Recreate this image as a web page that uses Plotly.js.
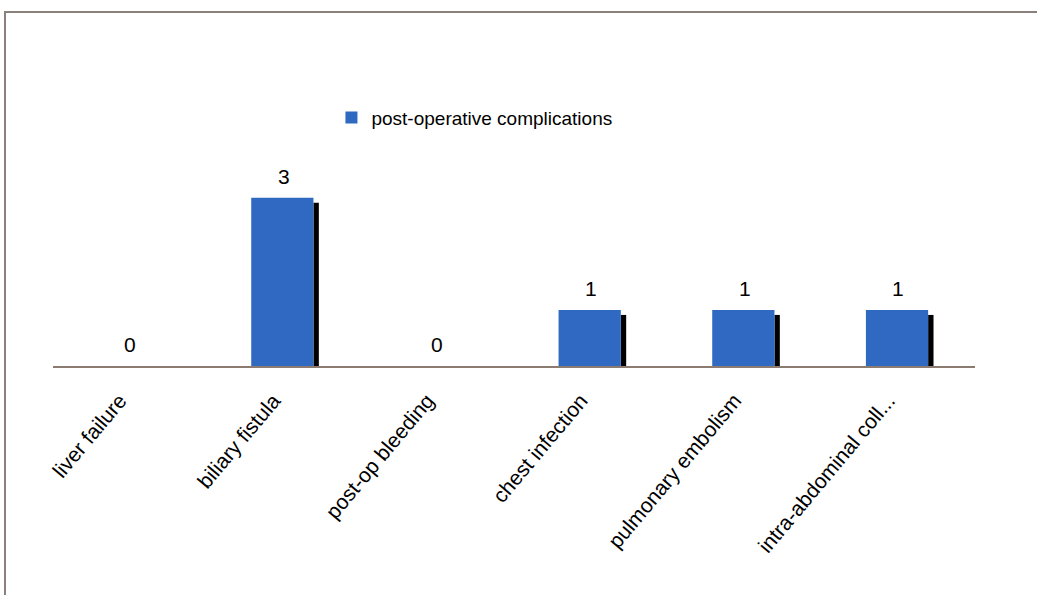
<!DOCTYPE html>
<html>
<head>
<meta charset="utf-8">
<script src="https://cdn.plot.ly/plotly-3.0.1.min.js"></script>
<style>
  html, body { margin: 0; padding: 0; background: #ffffff; }
  #chart { position: absolute; left: 0; top: 0; width: 1037px; height: 595px; }
  #frame { position: absolute; left: 4px; top: 11px; width: 1040px; height: 600px;
           border-top: 2px solid #8a817c; border-left: 2px solid #8a817c; pointer-events: none; }
</style>
</head>
<body>
<div id="chart"></div>
<div id="frame"></div>
<script>
const categories = ["liver failure", "biliary fistula", "post-op bleeding", "chest infection", "pulmonary embolism", "intra-abdominal coll..."];
const complications = [0, 3, 0, 1, 1, 1];
const seriesName = "post-operative complications";

const shadow = {
  type: "bar",
  x: categories,
  y: complications.map(v => v > 0 ? v - 0.09 : 0),
  width: 0.035,
  offset: 0.195,
  marker: { color: "#000000" },
  showlegend: false,
  hoverinfo: "skip"
};

const bars = {
  type: "bar",
  name: seriesName,
  x: categories,
  y: complications,
  width: 0.405,
  offset: -0.21,
  marker: { color: "#2f69c2" }
};

const labels = categories.map((c, i) => ({
  x: c, y: complications[i], xref: "x", yref: "y",
  text: String(complications[i]), showarrow: false,
  yanchor: "bottom", yshift: 8,
  font: { family: "Liberation Sans, Arial, sans-serif", size: 21, color: "#000000" }
}));

const layout = {
  width: 1037, height: 595,
  margin: { l: 53, r: 62, t: 164, b: 229 },
  paper_bgcolor: "rgba(0,0,0,0)",
  plot_bgcolor: "rgba(0,0,0,0)",
  barmode: "overlay",
  showlegend: true,
  legend: {
    x: 0.302, y: 1.23, xanchor: "left", yanchor: "middle",
    orientation: "h", itemwidth: 30,
    font: { family: "Liberation Sans, Arial, sans-serif", size: 19, color: "#000000" },
    bgcolor: "rgba(0,0,0,0)"
  },
  xaxis: {
    type: "category",
    showline: true, linecolor: "#8b7b70", linewidth: 2,
    showgrid: false, ticks: "", tickangle: -50,
    ticklabelstandoff: 12, ticklabelshift: -10,
    tickfont: { family: "Liberation Sans, Arial, sans-serif", size: 21, color: "#000000" },
    zeroline: false
  },
  yaxis: {
    range: [0, 3.6],
    visible: false, showgrid: false, zeroline: false
  },
  annotations: labels
};

Plotly.newPlot("chart", [shadow, bars], layout, { displayModeBar: false, staticPlot: true });
</script>
</body>
</html>
